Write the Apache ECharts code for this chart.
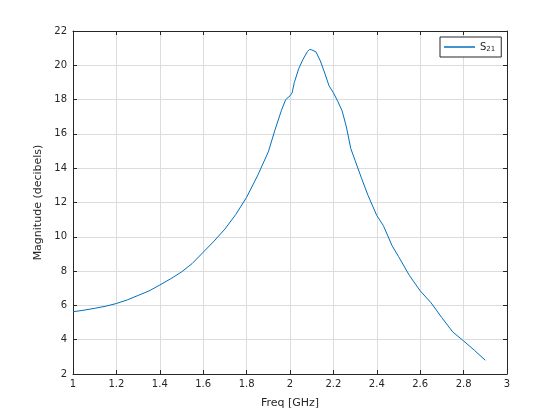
<!DOCTYPE html>
<html>
<head>
<meta charset="utf-8">
<script src="https://cdn.jsdelivr.net/npm/echarts@6/dist/echarts.min.js"></script>
<style>html,body{margin:0;padding:0;background:#fff}#c{width:560px;height:420px}</style>
</head>
<body>
<div id="c"></div>
<script>
const freq = [1.00,1.05,1.10,1.15,1.20,1.25,1.30,1.35,1.40,1.45,1.50,1.55,1.60,1.65,1.70,1.75,1.80,1.85,1.90,1.93,1.96,1.98,2.00,2.01,2.02,2.04,2.06,2.08,2.09,2.10,2.12,2.14,2.16,2.18,2.20,2.22,2.24,2.26,2.28,2.30,2.33,2.36,2.40,2.43,2.47,2.50,2.55,2.60,2.65,2.70,2.75,2.80,2.85,2.90];
const mag = [5.63,5.72,5.83,5.95,6.11,6.32,6.58,6.84,7.19,7.55,7.95,8.45,9.10,9.75,10.45,11.30,12.30,13.55,14.95,16.20,17.35,18.00,18.22,18.40,19.00,19.80,20.35,20.80,20.92,20.90,20.78,20.25,19.55,18.80,18.40,17.90,17.35,16.40,15.15,14.45,13.40,12.40,11.24,10.66,9.49,8.85,7.75,6.85,6.15,5.28,4.45,3.93,3.38,2.80];
const xTicks = {min: 1, max: 3, interval: 0.2};
const yTicks = {min: 2, max: 22, interval: 2};
const seriesName = 'S21';

const font = 'DejaVu Sans';
const axisColor = '#262626';
const chart = echarts.init(document.getElementById('c'));
const data = freq.map((f, i) => [f, mag[i]]);
const boxAxis = {
  axisLine: {show: true, lineStyle: {color: axisColor, width: 1}},
  axisTick: {show: true, inside: true, length: 4, lineStyle: {color: axisColor}},
  axisLabel: {show: false},
  splitLine: {show: false}
};
chart.setOption({
  animation: false,
  backgroundColor: '#fff',
  grid: {left: 73, right: 53, top: 31, bottom: 46},
  legend: {
    left: 440, top: 37,
    padding: [4, 6, 4, 4],
    borderColor: axisColor, borderWidth: 1, borderRadius: 0,
    backgroundColor: '#fff',
    itemWidth: 31, itemHeight: 1.5, itemGap: 5,
    data: [{name: seriesName, icon: 'rect'}],
    formatter: () => '{a|S}{b|21}',
    textStyle: {
      fontFamily: font, color: axisColor,
      rich: {
        a: {fontSize: 10, fontFamily: font, color: axisColor, lineHeight: 12, verticalAlign: 'middle'},
        b: {fontSize: 7, fontFamily: font, color: axisColor, padding: [5, 0, 0, 0], lineHeight: 12}
      }
    }
  },
  xAxis: [{
    type: 'value', min: xTicks.min, max: xTicks.max, interval: xTicks.interval,
    name: 'Freq [GHz]', nameLocation: 'middle', nameGap: 24,
    nameTextStyle: {fontFamily: font, fontSize: 11, color: axisColor},
    axisLine: {show: true, onZero: false, lineStyle: {color: axisColor}},
    axisTick: {show: true, inside: true, length: 4, lineStyle: {color: axisColor}},
    axisLabel: {fontFamily: font, fontSize: 10, color: axisColor, margin: 5},
    splitLine: {show: true, lineStyle: {color: '#dcdcdc', width: 1}}
  }, Object.assign({type: 'value', position: 'top', min: xTicks.min, max: xTicks.max, interval: xTicks.interval}, boxAxis)],
  yAxis: [{
    type: 'value', min: yTicks.min, max: yTicks.max, interval: yTicks.interval,
    name: 'Magnitude (decibels)', nameLocation: 'middle', nameGap: 28,
    nameTextStyle: {fontFamily: font, fontSize: 11, color: axisColor},
    axisLine: {show: true, onZero: false, lineStyle: {color: axisColor}},
    axisTick: {show: true, inside: true, length: 4, lineStyle: {color: axisColor}},
    axisLabel: {fontFamily: font, fontSize: 10, color: axisColor, margin: 6},
    splitLine: {show: true, lineStyle: {color: '#dcdcdc', width: 1}}
  }, Object.assign({type: 'value', position: 'right', min: yTicks.min, max: yTicks.max, interval: yTicks.interval}, boxAxis)],
  series: [{
    name: seriesName, type: 'line', data: data,
    symbol: 'none', showSymbol: false,
    lineStyle: {color: '#0072BD', width: 1},
    itemStyle: {color: '#0072BD'}
  }]
});
</script>
</body>
</html>
